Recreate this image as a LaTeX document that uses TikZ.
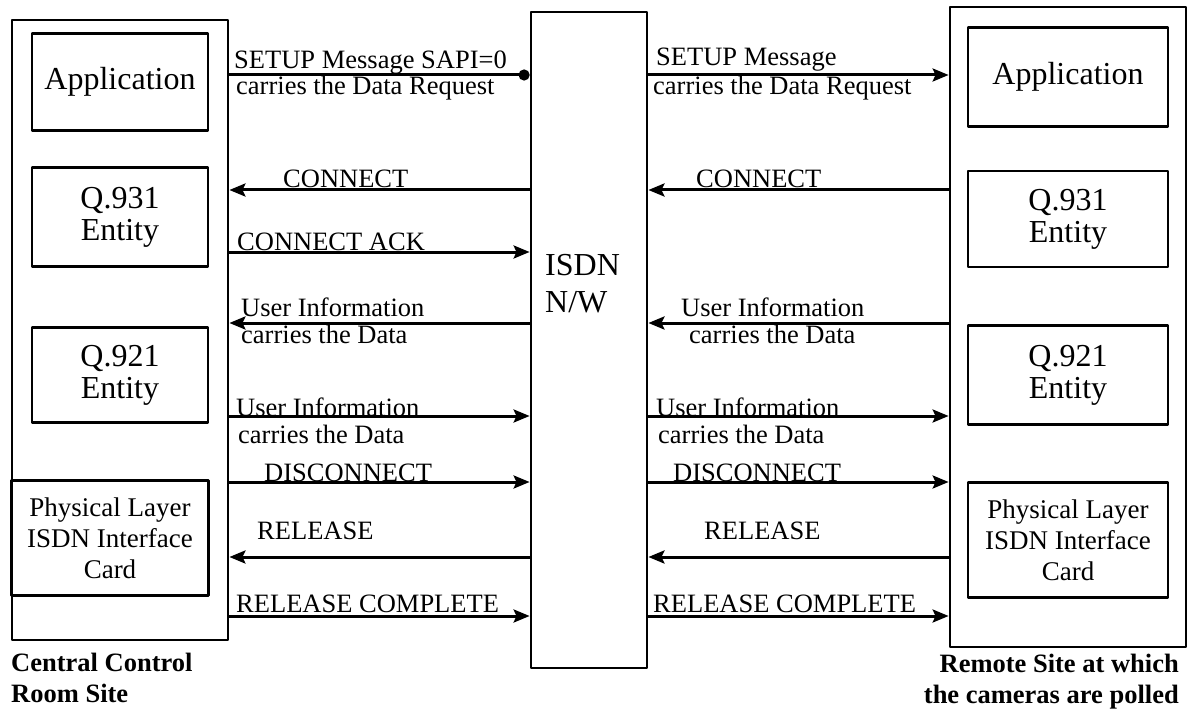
\documentclass[tikz,border=0pt]{standalone}
\usepackage{fontspec}
\setmainfont{Liberation Serif}
\usetikzlibrary{arrows.meta}

\tikzset{
	blk/.style={draw,line width=2.8pt,align=center,inner sep=2pt},
	big/.style={font=\fontsize{32}{32}\selectfont},
	phys/.style={font=\fontsize{27}{31}\selectfont},
	msg/.style={font=\fontsize{26.5}{29}\selectfont,inner sep=1pt},
	site/.style={font=\fontsize{26.5}{31}\selectfont\bfseries,inner sep=0pt},
	sig/.style={line width=3pt},
}

\begin{document}
\begin{tikzpicture}[x=1pt,y=-1pt,>={Stealth[length=16pt,width=13pt,inset=3pt]},line join=round]
	\useasboundingbox (0,0) rectangle (1190,711);
	%\draw[line width=0.2pt,gray,dashed] (0,0) grid[step=50] (1190,711);
	% the two sites and the network
	\node[blk,minimum width=216pt,minimum height=620pt] (ccr) at (120,330) {};
	\node[blk,minimum width=116pt,minimum height=656pt] (isdn) at (589,340) {};
	\node[blk,minimum width=236pt,minimum height=640pt] (rem) at (1068,327) {};
	\node[big,align=left,anchor=north west,inner sep=0pt] (isdnlbl) at (545,254) {ISDN\\[5pt]N/W};
	% protocol stack, central side
	\node[blk,big,minimum width=176pt,minimum height=97pt] (appL) at (120,82) {Application};
	\node[blk,big,minimum width=176pt,minimum height=99pt] (q931L) at (120,217) {Q.931\\Entity};
	\node[blk,big,minimum width=176pt,minimum height=95pt] (q921L) at (120,375) {Q.921\\Entity};
	\node[blk,phys,minimum width=197pt,minimum height=115pt] (physL) at (110,538) {Physical Layer\\ISDN Interface\\Card};
	% protocol stack, remote side
	\node[blk,big,minimum width=200pt,minimum height=99pt] (appR) at (1068,77) {Application};
	\node[blk,big,minimum width=200pt,minimum height=96pt] (q931R) at (1068,219) {Q.931\\Entity};
	\node[blk,big,minimum width=200pt,minimum height=99pt] (q921R) at (1068,375) {Q.921\\Entity};
	\node[blk,phys,minimum width=200pt,minimum height=115pt] (physR) at (1068,540) {Physical Layer\\ISDN Interface\\Card};
	% message rows
	\coordinate (r1) at (0,75);
	\coordinate (r2) at (0,190);
	\coordinate (r3) at (0,252);
	\coordinate (r4) at (0,323);
	\coordinate (r5) at (0,416);
	\coordinate (r6) at (0,482);
	\coordinate (r7) at (0,557);
	\coordinate (r8) at (0,616);
	% central site <-> network
	\draw[sig,-{Circle[length=11pt]}] (ccr.east |- r1) -- (isdn.west |- r1);
	\draw[sig,<-] (ccr.east |- r2) -- (isdn.west |- r2);
	\draw[sig,->] (ccr.east |- r3) -- (isdn.west |- r3);
	\draw[sig,<-] (ccr.east |- r4) -- (isdn.west |- r4);
	\draw[sig,->] (ccr.east |- r5) -- (isdn.west |- r5);
	\draw[sig,->] (ccr.east |- r6) -- (isdn.west |- r6);
	\draw[sig,<-] (ccr.east |- r7) -- (isdn.west |- r7);
	\draw[sig,->] (ccr.east |- r8) -- (isdn.west |- r8);
	\node[msg,anchor=south west] (m1a) at (233,75) {SETUP Message SAPI=0};
	\node[msg,anchor=north west] (m1b) at (235,75) {carries the Data Request};
	\node[msg,anchor=south west] (m2) at (282,189) {CONNECT};
	\node[msg,anchor=south west] (m3) at (236,252) {CONNECT ACK};
	\node[msg,anchor=south west] (m4a) at (240,318) {User Information};
	\node[msg,anchor=north west] (m4b) at (240,324) {carries the Data};
	\node[msg,anchor=south west] (m5a) at (235,418) {User Information};
	\node[msg,anchor=north west] (m5b) at (237,424) {carries the Data};
	\node[msg,anchor=south west] (m6) at (263,483) {DISCONNECT};
	\node[msg,anchor=south west] (m7) at (256,541) {RELEASE};
	\node[msg,anchor=south west] (m8) at (235,614) {RELEASE COMPLETE};
	% network <-> remote site
	\draw[sig,->] (isdn.east |- r1) -- (rem.west |- r1);
	\draw[sig,<-] (isdn.east |- r2) -- (rem.west |- r2);
	\draw[sig,<-] (isdn.east |- r4) -- (rem.west |- r4);
	\draw[sig,->] (isdn.east |- r5) -- (rem.west |- r5);
	\draw[sig,->] (isdn.east |- r6) -- (rem.west |- r6);
	\draw[sig,<-] (isdn.east |- r7) -- (rem.west |- r7);
	\draw[sig,->] (isdn.east |- r8) -- (rem.west |- r8);
	\node[msg,anchor=south west] (n1a) at (655,72) {SETUP Message};
	\node[msg,anchor=north west] (n1b) at (652,75) {carries the Data Request};
	\node[msg,anchor=south west] (n2) at (695,189) {CONNECT};
	\node[msg,anchor=south west] (n4a) at (680,318) {User Information};
	\node[msg,anchor=north west] (n4b) at (688,324) {carries the Data};
	\node[msg,anchor=south west] (n5a) at (655,418) {User Information};
	\node[msg,anchor=north west] (n5b) at (657,424) {carries the Data};
	\node[msg,anchor=south west] (n6) at (672,483) {DISCONNECT};
	\node[msg,anchor=south west] (n7) at (703,541) {RELEASE};
	\node[msg,anchor=south west] (n8) at (652,614) {RELEASE COMPLETE};
	% site names
	\node[site,anchor=north west,align=left] (ccrname) at (11,653) {Central Control\\Room Site};
	\node[site,anchor=north east,align=right] (remname) at (1179,654) {Remote Site at which\\the cameras are polled};
\end{tikzpicture}
\end{document}
